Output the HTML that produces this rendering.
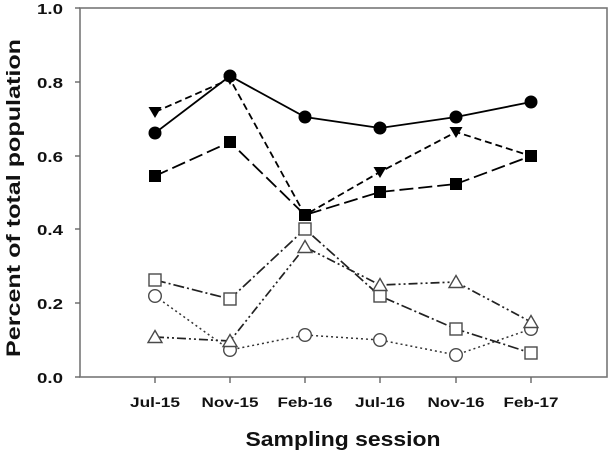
<!DOCTYPE html>
<html>
<head>
<meta charset="utf-8">
<style>
html,body{margin:0;padding:0;background:#fff;}
svg{display:block;}
text{font-family:"Liberation Sans",Arial,sans-serif;font-weight:bold;fill:#111;}
</style>
</head>
<body>
<svg width="609" height="453" viewBox="0 0 609 453" xmlns="http://www.w3.org/2000/svg">
  <!-- frame -->
  <rect x="80" y="8" width="527" height="369" fill="none" stroke="#777" stroke-width="1.6"/>
  <!-- ticks -->
  <g stroke="#666" stroke-width="1.4">
    <line x1="75" y1="8" x2="80" y2="8"/>
    <line x1="75" y1="82" x2="80" y2="82"/>
    <line x1="75" y1="156" x2="80" y2="156"/>
    <line x1="75" y1="229" x2="80" y2="229"/>
    <line x1="75" y1="303" x2="80" y2="303"/>
    <line x1="75" y1="377" x2="80" y2="377"/>
    <line x1="155" y1="377" x2="155" y2="383"/>
    <line x1="230" y1="377" x2="230" y2="383"/>
    <line x1="305" y1="377" x2="305" y2="383"/>
    <line x1="380" y1="377" x2="380" y2="383"/>
    <line x1="456" y1="377" x2="456" y2="383"/>
    <line x1="531" y1="377" x2="531" y2="383"/>
  </g>
  <!-- y tick labels -->
  <g font-size="15" text-anchor="end">
    <text x="63" y="14" textLength="26" lengthAdjust="spacingAndGlyphs">1.0</text>
    <text x="63" y="88" textLength="26" lengthAdjust="spacingAndGlyphs">0.8</text>
    <text x="63" y="162" textLength="26" lengthAdjust="spacingAndGlyphs">0.6</text>
    <text x="63" y="235" textLength="26" lengthAdjust="spacingAndGlyphs">0.4</text>
    <text x="63" y="309" textLength="26" lengthAdjust="spacingAndGlyphs">0.2</text>
    <text x="63" y="383" textLength="26" lengthAdjust="spacingAndGlyphs">0.0</text>
  </g>
  <!-- x tick labels -->
  <g font-size="14" text-anchor="middle">
    <text x="155" y="407" textLength="50" lengthAdjust="spacingAndGlyphs">Jul-15</text>
    <text x="230" y="407" textLength="57" lengthAdjust="spacingAndGlyphs">Nov-15</text>
    <text x="305" y="407" textLength="55" lengthAdjust="spacingAndGlyphs">Feb-16</text>
    <text x="380" y="407" textLength="50" lengthAdjust="spacingAndGlyphs">Jul-16</text>
    <text x="456" y="407" textLength="57" lengthAdjust="spacingAndGlyphs">Nov-16</text>
    <text x="531" y="407" textLength="55" lengthAdjust="spacingAndGlyphs">Feb-17</text>
  </g>
  <!-- axis titles -->
  <text x="343" y="446" font-size="20" text-anchor="middle" textLength="195" lengthAdjust="spacingAndGlyphs">Sampling session</text>
  <text transform="translate(20,198) rotate(-90)" font-size="19" text-anchor="middle" textLength="318" lengthAdjust="spacingAndGlyphs">Percent of total population</text>

  <!-- open circle series: dotted -->
  <polyline fill="none" stroke="#333" stroke-width="1.5" stroke-dasharray="2,3"
    points="155,296 230,350 305,335 380,340 456,355 531,329"/>
  <!-- open triangle series: dash-dot-dot -->
  <polyline fill="none" stroke="#222" stroke-width="1.7" stroke-dasharray="9,3,2,3,2,3"
    points="155,337 230,341 305,247 380,285 456,282 531,322"/>
  <!-- open square series: dash-dot -->
  <polyline fill="none" stroke="#222" stroke-width="1.7" stroke-dasharray="11,3,2,3"
    points="155,280 230,299 305,229 380,296 456,329 531,353"/>

  <!-- open markers -->
  <g fill="#fff" stroke="#4a4a4a" stroke-width="1.4">
    <circle cx="155" cy="296" r="6.3"/>
    <circle cx="230" cy="350" r="6.3"/>
    <circle cx="305" cy="335" r="6.3"/>
    <circle cx="380" cy="340" r="6.3"/>
    <circle cx="456" cy="355" r="6.3"/>
    <circle cx="531" cy="329" r="6.3"/>

    <rect x="149" y="274" width="12" height="12"/>
    <rect x="224" y="293" width="12" height="12"/>
    <rect x="299" y="223" width="12" height="12"/>
    <rect x="374" y="290" width="12" height="12"/>
    <rect x="450" y="323" width="12" height="12"/>
    <rect x="525" y="347" width="12" height="12"/>

    <polygon points="155,330.5 162,342.5 148,342.5"/>
    <polygon points="230,334.5 237,346.5 223,346.5"/>
    <polygon points="305,240.5 312,252.5 298,252.5"/>
    <polygon points="380,278.5 387,290.5 373,290.5"/>
    <polygon points="456,275.5 463,287.5 449,287.5"/>
    <polygon points="531,315.5 538,327.5 524,327.5"/>
  </g>

  <!-- filled square series: long dash -->
  <polyline fill="none" stroke="#000" stroke-width="1.8" stroke-dasharray="14,5"
    points="155,176 230,142 305,215 380,192 456,184 531,156"/>
  <!-- filled triangle series: dashed -->
  <polyline fill="none" stroke="#000" stroke-width="1.8" stroke-dasharray="7,4"
    points="155,112 230,79 305,215 380,172 456,132 531,156"/>
  <!-- filled circle series: solid -->
  <polyline fill="none" stroke="#000" stroke-width="1.8"
    points="155,133 230,76 305,117 380,128 456,117 531,102"/>

  <!-- filled markers -->
  <g fill="#000" stroke="none">
    <polygon points="148.5,107 161.5,107 155,118"/>
    <polygon points="223.5,74 236.5,74 230,85"/>
    <polygon points="298.5,210 311.5,210 305,221"/>
    <polygon points="373.5,167 386.5,167 380,178"/>
    <polygon points="449.5,127 462.5,127 456,138"/>

    <rect x="149" y="170" width="12" height="12"/>
    <rect x="224" y="136" width="12" height="12"/>
    <rect x="299" y="209" width="12" height="12"/>
    <rect x="374" y="186" width="12" height="12"/>
    <rect x="450" y="178" width="12" height="12"/>
    <rect x="525" y="150" width="12" height="12"/>

    <circle cx="155" cy="133" r="6.5"/>
    <circle cx="230" cy="76" r="6.5"/>
    <circle cx="305" cy="117" r="6.5"/>
    <circle cx="380" cy="128" r="6.5"/>
    <circle cx="456" cy="117" r="6.5"/>
    <circle cx="531" cy="102" r="6.5"/>
  </g>
</svg>
</body>
</html>
